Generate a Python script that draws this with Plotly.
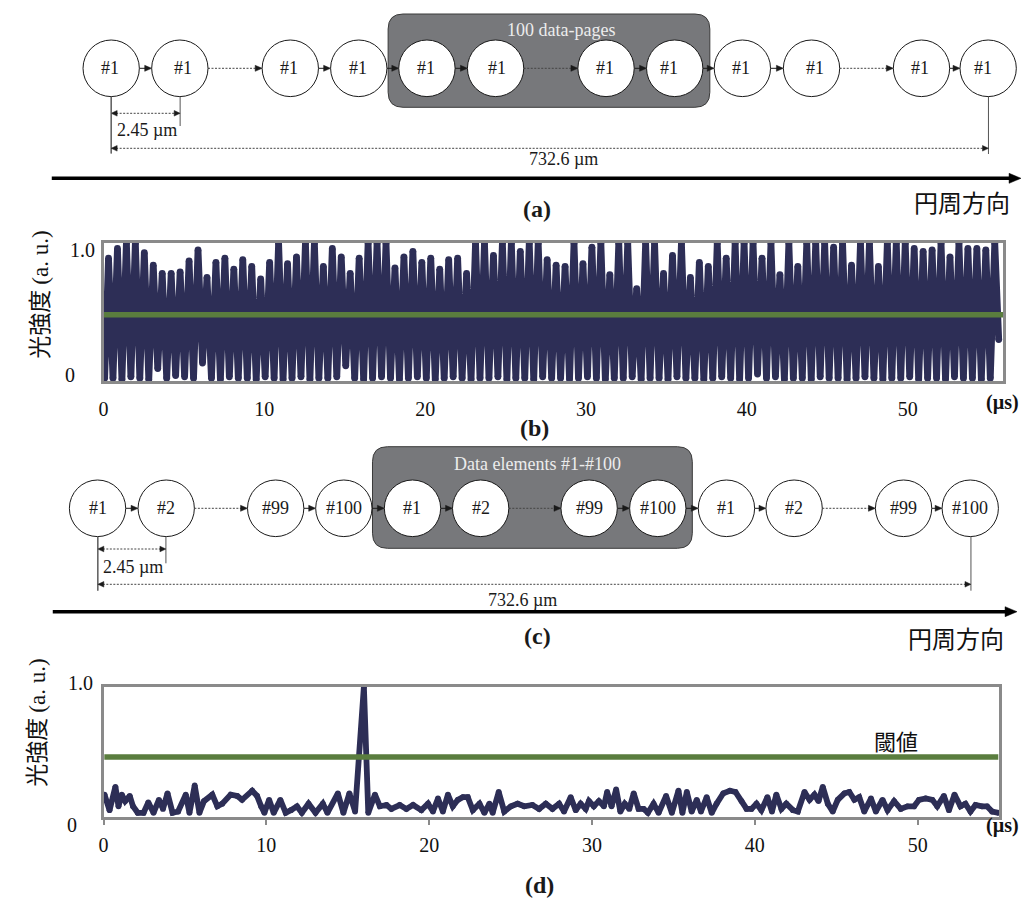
import plotly.graph_objects as go

W, H = 1022, 899

# ---------------- data ----------------
# (b) detected intensity for 100 identical data pages (#1 repeated)
PULSE_PEAKS = [
    0.89, 0.96, 1.0, 1.0, 0.93, 0.84, 0.78, 0.78, 0.79, 0.87,
    0.95, 0.75, 0.86, 0.89, 0.81, 0.88, 0.83, 0.74, 0.86, 1.0,
    0.85, 0.90, 1.0, 1.0, 0.83, 0.96, 0.90, 0.78, 0.89, 1.0,
    1.0, 1.0, 0.82, 0.90, 0.94, 0.86, 0.89, 0.81, 0.88, 0.89,
    0.78, 1.0, 1.0, 0.91, 1.0, 1.0, 0.94, 1.0, 1.0, 0.88,
    0.84, 0.83, 1.0, 0.85, 0.97, 1.0, 0.77, 1.0, 1.0, 0.67,
    1.0, 1.0, 0.78, 0.91, 1.0, 0.75, 0.86, 0.83, 1.0, 0.89,
    1.0, 1.0, 1.0, 0.89, 1.0, 0.77, 1.0, 0.83, 1.0, 1.0,
    1.0, 0.97, 1.0, 0.84, 1.0, 1.0, 0.83, 1.0, 1.0, 1.0,
    0.96, 0.94, 0.95, 1.0, 0.90, 1.0, 0.96, 0.96, 0.95, 1.0,
]
PULSE_TROUGHS = [
    0.02, 0.01, 0.03, 0.02, 0.01, 0.09, 0.02, 0.04, 0.03, 0.02,
    0.13, 0.02, 0.01, 0.03, 0.02, 0.02, 0.01, 0.03, 0.02, 0.01,
    0.02, 0.03, 0.01, 0.02, 0.02, 0.03, 0.11, 0.02, 0.01, 0.02,
    0.03, 0.02, 0.01, 0.02, 0.03, 0.02, 0.01, 0.02, 0.03, 0.02,
    0.01, 0.02, 0.02, 0.03, 0.01, 0.02, 0.02, 0.01, 0.03, 0.02,
    0.02, 0.01, 0.02, 0.03, 0.02, 0.01, 0.02, 0.02, 0.03, 0.01,
    0.02, 0.02, 0.01, 0.03, 0.02, 0.02, 0.01, 0.02, 0.03, 0.02,
    0.01, 0.02, 0.05, 0.02, 0.03, 0.01, 0.02, 0.02, 0.01, 0.03,
    0.02, 0.02, 0.01, 0.02, 0.03, 0.02, 0.01, 0.02, 0.02, 0.03,
    0.01, 0.02, 0.02, 0.01, 0.03, 0.02, 0.02, 0.01, 0.02,
]
PULSE_FIRST_US = 0.31
PULSE_PERIOD_US = 0.5566
PULSE_LEAD = [(0.0, 0.30), (0.07, 0.02)]
PULSE_END = (55.66, 0.30)
THRESHOLD_B = 0.48

# (d) detected intensity for data elements #1-#100
CORR_TIME = [
    0.06, 0.37, 0.73, 0.92, 1.12, 1.33, 1.61, 1.81, 2.10, 2.46,
    2.75, 3.07, 3.40, 3.65, 3.93, 4.24, 4.58, 5.05, 5.28, 5.60,
    5.89, 6.17, 6.68, 6.99, 7.29, 7.81, 8.21, 8.51, 9.13, 9.43,
    9.68, 9.88, 10.17, 10.45, 10.86, 11.19, 11.51, 11.88, 12.18, 12.59,
    13.02, 13.47, 13.75, 14.39, 14.73, 15.10, 15.45, 15.99, 16.26, 16.67,
    16.97, 17.38, 17.68, 18.19, 18.60, 19.01, 19.52, 19.93, 20.23, 20.54,
    20.84, 21.15, 21.45, 21.76, 22.07, 22.37, 22.68, 23.09, 23.39, 23.70,
    23.90, 24.27, 24.61, 25.02, 25.43, 25.84, 26.34, 26.75, 27.16, 27.57,
    27.98, 28.28, 28.69, 29.00, 29.30, 29.61, 29.81, 30.11, 30.42, 30.73,
    30.93, 31.20, 31.48, 31.74, 32.01, 32.29, 32.56, 32.86, 33.17, 33.43,
    33.78, 34.09, 34.55, 34.90, 35.31, 35.55, 35.82, 36.12, 36.43, 36.69,
    37.04, 37.35, 37.65, 38.06, 38.47, 38.81, 39.18, 39.49, 39.79, 40.10,
    40.40, 40.77, 41.05, 41.32, 41.63, 41.93, 42.34, 42.64, 43.05, 43.36,
    43.66, 43.91, 44.17, 44.48, 44.78, 45.09, 45.50, 45.80, 46.11, 46.41,
    46.72, 47.13, 47.43, 47.84, 48.15, 48.55, 48.96, 49.37, 49.78, 50.08,
    50.49, 50.90, 51.20, 51.61, 51.92, 52.26, 52.63, 52.93, 53.24, 53.55,
    53.95, 54.26, 54.57, 54.97,
]
CORR_VALUE = [
    0.17, 0.05, 0.23, 0.08, 0.17, 0.12, 0.16, 0.08, 0.03, 0.03,
    0.11, 0.03, 0.13, 0.06, 0.18, 0.03, 0.04, 0.17, 0.03, 0.24,
    0.03, 0.12, 0.17, 0.08, 0.10, 0.17, 0.16, 0.13, 0.20, 0.16,
    0.08, 0.03, 0.13, 0.03, 0.13, 0.03, 0.05, 0.08, 0.03, 0.10,
    0.03, 0.10, 0.03, 0.18, 0.03, 0.18, 0.04, 1.00, 0.03, 0.17,
    0.08, 0.09, 0.06, 0.09, 0.06, 0.09, 0.05, 0.10, 0.04, 0.14,
    0.04, 0.17, 0.08, 0.13, 0.15, 0.15, 0.05, 0.10, 0.03, 0.10,
    0.03, 0.19, 0.04, 0.08, 0.10, 0.08, 0.09, 0.06, 0.10, 0.06,
    0.10, 0.04, 0.15, 0.05, 0.10, 0.06, 0.12, 0.08, 0.12, 0.08,
    0.19, 0.08, 0.21, 0.04, 0.10, 0.06, 0.18, 0.06, 0.06, 0.03,
    0.10, 0.03, 0.16, 0.03, 0.20, 0.03, 0.19, 0.04, 0.13, 0.04,
    0.15, 0.03, 0.10, 0.18, 0.20, 0.19, 0.12, 0.06, 0.06, 0.10,
    0.05, 0.15, 0.04, 0.17, 0.06, 0.10, 0.05, 0.04, 0.19, 0.13,
    0.17, 0.12, 0.23, 0.10, 0.04, 0.13, 0.18, 0.19, 0.13, 0.15,
    0.04, 0.14, 0.04, 0.13, 0.05, 0.12, 0.06, 0.08, 0.08, 0.13,
    0.14, 0.13, 0.08, 0.16, 0.05, 0.17, 0.08, 0.10, 0.04, 0.09,
    0.08, 0.08, 0.04, 0.03,
]
THRESHOLD_D = 0.46

X_TICKS = [0, 10, 20, 30, 40, 50]

LABELS_A = ["#1"] * 12
LABELS_C = ["#1", "#2", "#99", "#100"] * 3

# ---------------- styling ----------------
SERIF = "Liberation Serif, Times New Roman, serif"
CJK = "Noto Sans CJK JP, Noto Sans CJK SC, sans-serif"
NAVY = "#2d2e56"
GREEN = "#5a7d3e"
FRAME = "#8a8a8a"
BOX_FILL = "#77787b"
INK = "#1a1a1a"


def px(x):
    return x / W


def py(y):
    return 1 - y / H


shapes = []
annotations = []


def seg(x0, y0, x1, y1, color=INK, width=1.0, dash="solid"):
    shapes.append(dict(type="line", xref="paper", yref="paper",
                       x0=px(x0), y0=py(y0), x1=px(x1), y1=py(y1),
                       line=dict(color=color, width=width, dash=dash)))


def head(tx, ty, direction, length=7, half=3, color=INK):
    bx = tx - direction * length
    path = (f"M {px(tx)} {py(ty)} L {px(bx)} {py(ty - half)} "
            f"L {px(bx)} {py(ty + half)} Z")
    shapes.append(dict(type="path", xref="paper", yref="paper", path=path,
                       fillcolor=color, line=dict(color=color, width=0.5)))


def circle(cx, cy, r):
    shapes.append(dict(type="circle", xref="paper", yref="paper",
                       x0=px(cx - r), x1=px(cx + r), y0=py(cy + r), y1=py(cy - r),
                       fillcolor="white", line=dict(color=INK, width=1)))


def rounded_box(x0, y0, x1, y1, rad):
    p = (f"M {px(x0 + rad)} {py(y0)} L {px(x1 - rad)} {py(y0)} "
         f"Q {px(x1)} {py(y0)} {px(x1)} {py(y0 + rad)} "
         f"L {px(x1)} {py(y1 - rad)} Q {px(x1)} {py(y1)} {px(x1 - rad)} {py(y1)} "
         f"L {px(x0 + rad)} {py(y1)} Q {px(x0)} {py(y1)} {px(x0)} {py(y1 - rad)} "
         f"L {px(x0)} {py(y0 + rad)} Q {px(x0)} {py(y0)} {px(x0 + rad)} {py(y0)} Z")
    shapes.append(dict(type="path", xref="paper", yref="paper", path=p,
                       fillcolor=BOX_FILL, line=dict(color="#3a3a3a", width=1)))


def text(x, y, s, size=18, color=INK, family=SERIF, angle=0, xanchor="center"):
    annotations.append(dict(x=px(x), y=py(y), xref="paper", yref="paper",
                            text=s, showarrow=False, textangle=angle,
                            font=dict(family=family, size=size, color=color),
                            xanchor=xanchor, yanchor="middle"))


DOT = "2px,1.5px"


def chain(centers, cy, r, labels, label_dx):
    # links: solid arrows, with dotted arrows across the skipped stretches
    for i in range(len(centers) - 1):
        x0 = centers[i] + r
        x1 = centers[i + 1] - r
        dotted = i in (1, 5, 9)
        seg(x0, cy, x1 - 4, cy, color="#444" if dotted else INK, width=1,
            dash=DOT if dotted else "solid")
        head(x1, cy, +1, length=7, half=3)
    for c, lab, dx in zip(centers, labels, label_dx):
        circle(c, cy, r)
        text(c + dx, cy, lab, size=18)


def dimension(x_left, x_right, y_arrow, y_top, y_bottom_left, y_bottom_right, label, lx, ly):
    seg(x_left, y_top, x_left, y_bottom_left, color="#555", width=1)
    seg(x_right, y_top, x_right, y_bottom_right, color="#555", width=1)
    seg(x_left + 5, y_arrow, x_right - 5, y_arrow, color="#444", width=1, dash=DOT)
    head(x_left, y_arrow, -1, length=6, half=2.8)
    head(x_right, y_arrow, +1, length=6, half=2.8)
    text(lx, ly, label, size=18)


def direction_arrow(x0, x1, y, label_x, label_y):
    seg(x0, y, x1 - 10, y, color="black", width=3.5)
    head(x1, y, +1, length=12, half=5, color="black")
    text(label_x, label_y, "円周方向", size=24, family=CJK, color="#111")


R = 28.3

# ---------------- (a) ----------------
rounded_box(385, 14, 708.3, 107.3, 15)
text(559, 30, "100 data-pages", size=18, color="#ececec")
centers_a = [106.7, 175.7, 286.7, 355.5, 424, 493, 604, 673, 741, 810.5, 921, 988]
chain(centers_a, 68.3, R, LABELS_A, [-1, 3, -1, -1, -1, 1, -1, -6, -1, 3, -1, -5])
dimension(106.7, 176, 113.3, 96.6, 153.5, 126, "2.45 µm", 143, 130)
dimension(106.7, 988.3, 148.3, 96.6, 153.5, 154, "732.6 µm", 561, 159)
direction_arrow(47, 1021, 178.3, 962, 202)
text(535, 209, "<b>(a)</b>", size=24)

# ---------------- (c) ----------------
rounded_box(369.3, 446.7, 690.7, 548.3, 15)
text(535, 464, "Data elements #1-#100", size=18, color="#ececec")
centers_c = [93, 162, 272, 340.5, 409.5, 478, 587, 656, 725, 793, 903, 970]
chain(centers_c, 508.3, R, LABELS_C, [0] * 12)
dimension(93.3, 161.7, 549, 536.6, 590.7, 563.3, "2.45 µm", 129, 566.7)
dimension(93.3, 970.7, 584.3, 536.6, 590.7, 590.7, "732.6 µm", 520, 600)
direction_arrow(48, 1017, 611.7, 956, 637)
text(535, 636, "<b>(c)</b>", size=24)

# ---------------- (b) pulse train ----------------
t_b = [p[0] for p in PULSE_LEAD]
v_b = [p[1] for p in PULSE_LEAD]
for i, peak in enumerate(PULSE_PEAKS):
    tp = PULSE_FIRST_US + i * PULSE_PERIOD_US
    t_b.append(tp)
    v_b.append(peak)
    if i < len(PULSE_TROUGHS):
        t_b.append(tp + PULSE_PERIOD_US / 2)
        v_b.append(PULSE_TROUGHS[i])
t_b.append(PULSE_END[0])
v_b.append(PULSE_END[1])

fig = go.Figure()
# markers as wide as the stroke give the vertices round joins
fig.add_trace(go.Scatter(x=t_b, y=v_b, mode="lines+markers", xaxis="x", yaxis="y",
                         line=dict(color=NAVY, width=6.8, simplify=False),
                         marker=dict(color=NAVY, size=6.8, line=dict(width=0)),
                         showlegend=False, hoverinfo="skip"))
fig.add_trace(go.Scatter(x=[0, 56], y=[THRESHOLD_B, THRESHOLD_B], mode="lines",
                         xaxis="x", yaxis="y", line=dict(color=GREEN, width=5.5),
                         showlegend=False, hoverinfo="skip"))

# ---------------- (d) detection result ----------------
fig.add_trace(go.Scatter(x=CORR_TIME, y=CORR_VALUE, mode="lines+markers", xaxis="x2", yaxis="y2",
                         line=dict(color=NAVY, width=5.8, simplify=False),
                         marker=dict(color=NAVY, size=5.8, line=dict(width=0)),
                         showlegend=False, hoverinfo="skip"))
fig.add_trace(go.Scatter(x=[0.05, 54.95], y=[THRESHOLD_D, THRESHOLD_D], mode="lines",
                         xaxis="x2", yaxis="y2", line=dict(color=GREEN, width=5.5),
                         showlegend=False, hoverinfo="skip"))

tick_font = dict(family=SERIF, size=20, color="#111")
common_x = dict(showline=True, mirror=True, linecolor=FRAME, linewidth=2.5,
                showgrid=False, zeroline=False, tickmode="array",
                tickvals=X_TICKS, ticktext=[str(v) for v in X_TICKS],
                tickfont=tick_font)
common_y = dict(showline=True, mirror=True, linecolor=FRAME, linewidth=2.5,
                showgrid=False, zeroline=False, showticklabels=False, ticks="",
                range=[0, 1])

# panel (b) labels
text(33, 295, "光強度 <span style='font-family:Liberation Serif'>(a. u.)</span>",
     size=23, family=CJK, angle=-90, color="#111")
text(78, 250, "1.0", size=20, color="#111")
text(65.5, 375, "0", size=20, color="#111")
text(1002, 402, "<b>(µs)</b>", size=20, color="#111")
text(532, 428, "<b>(b)</b>", size=24)

# panel (d) labels
text(30, 723, "光強度 <span style='font-family:Liberation Serif'>(a. u.)</span>",
     size=23, family=CJK, angle=-90, color="#111")
text(75.5, 683, "1.0", size=20, color="#111")
text(67, 825, "0", size=20, color="#111")
text(1002, 825, "<b>(µs)</b>", size=20, color="#111")
text(895, 740, "閾値", size=22, family=CJK, color="#111")
text(537, 885, "<b>(d)</b>", size=24)

fig.update_layout(
    width=W, height=H,
    margin=dict(l=0, r=0, t=0, b=0),
    paper_bgcolor="white", plot_bgcolor="white",
    showlegend=False,
    xaxis=dict(domain=[px(99), px(1003.3)], range=[0, 55.95], anchor="y",
               ticks="", ticklabelstandoff=8, **common_x),
    yaxis=dict(domain=[py(381), py(243)], anchor="x", **common_y),
    xaxis2=dict(domain=[px(99), px(999)], range=[0, 55], anchor="y2",
                ticks="outside", ticklen=6, tickwidth=2, tickcolor=FRAME,
                ticklabelstandoff=3, **common_x),
    yaxis2=dict(domain=[py(816.7), py(686.7)], anchor="x2", **common_y),
    shapes=shapes,
    annotations=annotations,
)

fig.write_html("out.html")
